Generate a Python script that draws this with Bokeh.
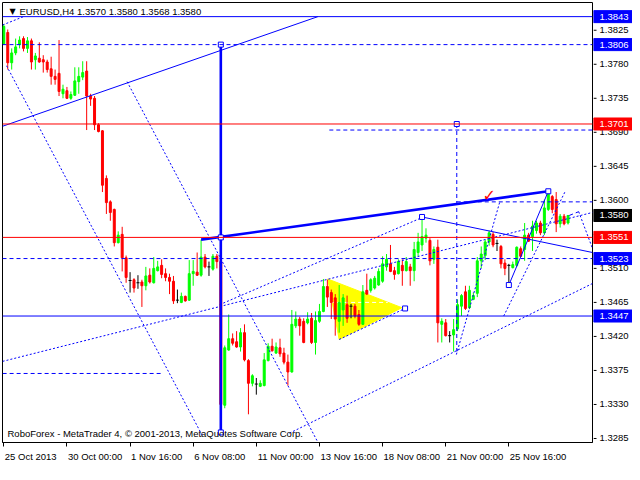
import numpy as np
from bokeh.plotting import figure
from bokeh.layouts import row
from bokeh.models import (Range1d, LinearAxis, FixedTicker, CustomJSTickFormatter, Span, Label,
                          ColumnDataSource)
from bokeh.embed import file_html
from bokeh.resources import INLINE
from bokeh.core.properties import value

# ---------------- data (EURUSD H4, bar index 0 = 25 Oct 2013 08:00) ----------------
time_labels = ["25 Oct 2013", "30 Oct 00:00", "1 Nov 16:00", "6 Nov 08:00", "11 Nov 00:00",
               "13 Nov 16:00", "18 Nov 08:00", "21 Nov 00:00", "25 Nov 16:00"]
time_label_bars = [0, 16, 32, 48, 64, 80, 96, 112, 128]
price_ticks = [1.3285, 1.3330, 1.3375, 1.3420, 1.3465, 1.3510, 1.3555,
               1.3600, 1.3645, 1.3690, 1.3735, 1.3780, 1.3825]

opens = [1.3807, 1.3822, 1.3782, 1.3795, 1.3806, 1.3814, 1.3801, 1.3811, 1.3786, 1.3788,
         1.3786, 1.3783, 1.3774, 1.3764, 1.3768, 1.3741, 1.3745, 1.3735, 1.3739, 1.3757,
         1.3763, 1.3771, 1.3738, 1.3735, 1.3700, 1.3692, 1.3629, 1.3598, 1.3588, 1.3544,
         1.3555, 1.3524, 1.3494, 1.3495, 1.3491, 1.3492, 1.3487, 1.3501, 1.3491, 1.3507,
         1.3514, 1.3503, 1.3498, 1.3493, 1.3468, 1.3465, 1.3473, 1.3468, 1.3503, 1.3505,
         1.3501, 1.3525, 1.3512, 1.3509, 1.3526, 1.3519, 1.3329, 1.3402, 1.3417, 1.3413,
         1.3406, 1.3425, 1.3388, 1.3358, 1.3357, 1.3354, 1.3355, 1.3388, 1.3407, 1.3398,
         1.3405, 1.3398, 1.3386, 1.3373, 1.3434, 1.3443, 1.3440, 1.3438, 1.3444, 1.3412,
         1.3440, 1.3453, 1.3486, 1.3478, 1.3471, 1.3440, 1.3455, 1.3462, 1.3460, 1.3460,
         1.3449, 1.3436, 1.3481, 1.3481, 1.3484, 1.3488, 1.3493, 1.3512, 1.3516, 1.3507,
         1.3503, 1.3514, 1.3507, 1.3512, 1.3507, 1.3531, 1.3541, 1.3550, 1.3547, 1.3522,
         1.3538, 1.3436, 1.3438, 1.3421, 1.3422, 1.3430, 1.3460, 1.3479, 1.3458, 1.3469,
         1.3477, 1.3520, 1.3527, 1.3545, 1.3555, 1.3543, 1.3539, 1.3517, 1.3514, 1.3511,
         1.3514, 1.3536, 1.3535, 1.3554, 1.3552, 1.3560, 1.3570, 1.3557, 1.3588, 1.3605,
         1.3601, 1.3569, 1.3579, 1.3570]
highs = [1.3833, 1.3826, 1.3801, 1.3814, 1.3817, 1.3817, 1.3816, 1.3814, 1.3795, 1.3809,
         1.3792, 1.3786, 1.3790, 1.3773, 1.3812, 1.3753, 1.3750, 1.3744, 1.3776, 1.3776,
         1.3784, 1.3784, 1.3741, 1.3738, 1.3702, 1.3693, 1.3633, 1.3600, 1.3589, 1.3559,
         1.3565, 1.3527, 1.3505, 1.3497, 1.3501, 1.3495, 1.3512, 1.3510, 1.3525, 1.3520,
         1.3522, 1.3510, 1.3503, 1.3500, 1.3482, 1.3478, 1.3474, 1.3521, 1.3521, 1.3531,
         1.3548, 1.3529, 1.3519, 1.3529, 1.3529, 1.3527, 1.3408, 1.3449, 1.3424, 1.3427,
         1.3431, 1.3436, 1.3390, 1.3370, 1.3365, 1.3362, 1.3398, 1.3411, 1.3417, 1.3412,
         1.3417, 1.3405, 1.3396, 1.3455, 1.3453, 1.3446, 1.3444, 1.3452, 1.3451, 1.3453,
         1.3463, 1.3496, 1.3495, 1.3482, 1.3476, 1.3488, 1.3476, 1.3474, 1.3463, 1.3463,
         1.3455, 1.3488, 1.3503, 1.3497, 1.3500, 1.3510, 1.3526, 1.3529, 1.3541, 1.3512,
         1.3522, 1.3522, 1.3525, 1.3516, 1.3545, 1.3557, 1.3577, 1.3563, 1.3550, 1.3539,
         1.3548, 1.3444, 1.3443, 1.3427, 1.3443, 1.3469, 1.3476, 1.3487, 1.3487, 1.3478,
         1.3525, 1.3539, 1.3548, 1.3560, 1.3558, 1.3548, 1.3541, 1.3522, 1.3516, 1.3519,
         1.3539, 1.3539, 1.3570, 1.3557, 1.3573, 1.3573, 1.3573, 1.3601, 1.3612, 1.3607,
         1.3611, 1.3582, 1.3582, 1.3580]
lows = [1.3806, 1.3773, 1.3773, 1.3792, 1.3801, 1.3797, 1.3795, 1.3773, 1.3773, 1.3782,
        1.3769, 1.3769, 1.3753, 1.3753, 1.3738, 1.3735, 1.3734, 1.3733, 1.3738, 1.3741,
        1.3759, 1.3693, 1.3725, 1.3693, 1.3690, 1.3611, 1.3582, 1.3573, 1.3539, 1.3543,
        1.3506, 1.3491, 1.3478, 1.3478, 1.3483, 1.3459, 1.3481, 1.3490, 1.3490, 1.3506,
        1.3497, 1.3493, 1.3476, 1.3463, 1.3464, 1.3464, 1.3466, 1.3467, 1.3487, 1.3500,
        1.3499, 1.3510, 1.3500, 1.3507, 1.3510, 1.3293, 1.3325, 1.3401, 1.3408, 1.3405,
        1.3400, 1.3387, 1.3317, 1.3354, 1.3343, 1.3353, 1.3354, 1.3387, 1.3400, 1.3397,
        1.3393, 1.3383, 1.3355, 1.3372, 1.3431, 1.3421, 1.3411, 1.3436, 1.3410, 1.3396,
        1.3438, 1.3452, 1.3459, 1.3443, 1.3421, 1.3425, 1.3434, 1.3438, 1.3444, 1.3444,
        1.3434, 1.3435, 1.3475, 1.3478, 1.3482, 1.3487, 1.3491, 1.3507, 1.3505, 1.3495,
        1.3502, 1.3487, 1.3506, 1.3487, 1.3493, 1.3526, 1.3533, 1.3544, 1.3514, 1.3516,
        1.3412, 1.3412, 1.3420, 1.3412, 1.3400, 1.3427, 1.3447, 1.3455, 1.3456, 1.3468,
        1.3472, 1.3510, 1.3521, 1.3540, 1.3538, 1.3533, 1.3510, 1.3501, 1.3488, 1.3510,
        1.3512, 1.3525, 1.3520, 1.3545, 1.3533, 1.3556, 1.3554, 1.3554, 1.3586, 1.3583,
        1.3558, 1.3564, 1.3567, 1.3568]
closes = [1.3830, 1.3782, 1.3795, 1.3803, 1.3812, 1.3801, 1.3811, 1.3783, 1.3791, 1.3783,
          1.3783, 1.3773, 1.3764, 1.3760, 1.3744, 1.3747, 1.3735, 1.3740, 1.3758, 1.3764,
          1.3769, 1.3738, 1.3734, 1.3700, 1.3691, 1.3620, 1.3597, 1.3584, 1.3544, 1.3554,
          1.3524, 1.3498, 1.3494, 1.3484, 1.3491, 1.3487, 1.3500, 1.3492, 1.3510, 1.3512,
          1.3502, 1.3498, 1.3493, 1.3467, 1.3468, 1.3473, 1.3467, 1.3503, 1.3506, 1.3501,
          1.3525, 1.3512, 1.3512, 1.3526, 1.3519, 1.3330, 1.3405, 1.3417, 1.3411, 1.3406,
          1.3425, 1.3389, 1.3358, 1.3368, 1.3357, 1.3358, 1.3389, 1.3407, 1.3401, 1.3406,
          1.3397, 1.3386, 1.3373, 1.3436, 1.3443, 1.3434, 1.3412, 1.3443, 1.3412, 1.3441,
          1.3453, 1.3486, 1.3472, 1.3465, 1.3443, 1.3465, 1.3471, 1.3444, 1.3460, 1.3447,
          1.3436, 1.3479, 1.3476, 1.3495, 1.3497, 1.3506, 1.3516, 1.3522, 1.3506, 1.3502,
          1.3519, 1.3507, 1.3519, 1.3507, 1.3535, 1.3545, 1.3552, 1.3554, 1.3520, 1.3535,
          1.3438, 1.3440, 1.3421, 1.3421, 1.3429, 1.3462, 1.3474, 1.3457, 1.3481, 1.3474,
          1.3520, 1.3529, 1.3545, 1.3557, 1.3541, 1.3543, 1.3516, 1.3510, 1.3514, 1.3515,
          1.3538, 1.3526, 1.3554, 1.3546, 1.3566, 1.3570, 1.3557, 1.3590, 1.3611, 1.3588,
          1.3569, 1.3579, 1.3569, 1.3580]

# horizontal price levels drawn on the chart
blue_solid_levels = [1.3843, 1.3447]
blue_dash_levels = [1.3806, 1.3523]
red_levels = [1.3701, 1.3551]
# price tags on the price scale
tag_prices = [1.3843, 1.3806, 1.3701, 1.3580, 1.3551, 1.3523, 1.3447]
tag_kinds = ["blue", "blue", "red", "black", "red", "blue", "blue"]

# analysis objects, anchors in (bar index, price)
dash_seg_x = [[-0.3, 40.4], [82.5, 150.0], [114.8, 150.0], [114.8, 114.8], [143.3, 145.7]]
dash_seg_y = [[1.3371, 1.3371], [1.3693, 1.3693], [1.3598, 1.3598], [1.3701, 1.3400], [1.3580, 1.3585]]
dot_x = [[-0.3, 5.0], [0.7, 50.4], [31.25, 79.6], [-0.3, 149.2], [72.4, 149.2], [54.7, 105.9],
         [114.7, 125.7], [126.7, 142.2], [85.0, 101.7], [145.7, 149.3]]
dot_y = [[1.3832, 1.3843], [1.3778, 1.3288], [1.3757, 1.3280], [1.3387, 1.3584], [1.3292, 1.3490],
         [1.3462, 1.3577], [1.3396, 1.3598], [1.3447, 1.3611], [1.3416, 1.3457], [1.3585, 1.3535]]
thin_x = [[-0.3, 79.6], [106.0, 149.2], [128.0, 138.0]]
thin_y = [[1.3698, 1.3843], [1.3578, 1.3531], [1.3488, 1.3612]]
thick_x = [[55.0, 55.0], [50.0, 138.0]]
thick_y = [[1.3806, 1.3293], [1.3548, 1.3612]]
anchor_x = [55.0, 55.0, 55.0, 138.0, 128.0, 106.0, 114.8, 101.7]
anchor_y = [1.3806, 1.3293, 1.3551, 1.3612, 1.3488, 1.3578, 1.3701, 1.3457]
triangle_x = [82.1, 100.9, 85.0]
triangle_y = [1.3496, 1.3458, 1.3416]
tri_mid_x = [82.7, 97.3]
tri_mid_y = [1.3465, 1.3465]
check_x = [123.0]
check_y = [1.3606]

title_text = "EURUSD,H4 1.3570 1.3580 1.3568 1.3580"
footer_text = "RoboForex - MetaTrader 4, \u00a9 2001-2013, MetaQuotes Software Corp."

# ---------------- layout constants ----------------
SCALE_W = 39                      # width of the price-scale strip
H = 464
BL, BR, BT, BB = 2, 1, 2, 18
FRAME_W = 590
X0, X1 = -0.33, 149.2
Y0, Y1 = 1.32797, 1.38617
FONT = "Liberation Sans"
FS = "9.5px"
BLUE = "#0000FF"
RED = "#FF0000"

yr = Range1d(Y0, Y1)
p = figure(width=BL + FRAME_W + BR, height=H, output_backend="svg", toolbar_location=None,
           x_range=Range1d(X0, X1), y_range=yr,
           x_axis_location=None, y_axis_location=None,
           min_border_left=BL, min_border_right=BR, min_border_top=BT, min_border_bottom=BB)
p.outline_line_color = "black"
p.outline_line_width = 1
p.background_fill_color = "white"
p.border_fill_color = "white"
for g in p.grid:
    g.visible = False

# bottom time axis: labels start at the tick (MetaTrader style)
px_per_bar = FRAME_W / (X1 - X0)
CW = {ch: 5.28 for ch in "0123456789"}
CW.update({" ": 2.64, ":": 2.64, "O": 7.39, "c": 4.75, "t": 2.64, "N": 6.86, "o": 5.28, "v": 4.75})


def est_w(s):
    return sum(CW.get(ch, 5.3) for ch in s)


label_pos = [b + (est_w(s) / 2 + 1.0) / px_per_bar for b, s in zip(time_label_bars, time_labels)]
xax = LinearAxis(ticker=FixedTicker(ticks=label_pos, minor_ticks=time_label_bars),
                 formatter=CustomJSTickFormatter(args=dict(pos=label_pos, labels=time_labels), code="""
let best = 0, bd = 1e9;
for (let k = 0; k < pos.length; k++) { const d = Math.abs(pos[k] - tick); if (d < bd) { bd = d; best = k; } }
return labels[best];
"""))
xax.major_tick_line_color = None
xax.major_tick_in = 0
xax.major_tick_out = 0
xax.minor_tick_in = 0
xax.minor_tick_out = 4
xax.minor_tick_line_color = "black"
xax.major_label_standoff = 4
xax.major_label_text_font = FONT
xax.major_label_text_font_size = FS
xax.major_label_text_color = "black"
xax.axis_line_color = "black"
p.add_layout(xax, "below")

# yellow triangle (behind the bars)
p.patch(triangle_x, triangle_y, fill_color="#FFFF00", line_color="#FFFF00", line_width=1)
p.line(tri_mid_x, tri_mid_y, line_color="white", line_dash="4 3", line_width=1)

# candles
o = np.array(opens); c = np.array(closes); h = np.array(highs); l = np.array(lows)
x = np.arange(len(o), dtype=float)
col = np.where(c > o, "#00FF00", np.where(c < o, RED, "#000000"))
src = ColumnDataSource(dict(x=x, h=h, l=l, col=col))
p.segment(x0="x", y0="l", x1="x", y1="h", line_color="col", line_width=1, source=src)
body = c != o
bsrc = ColumnDataSource(dict(x=x[body], top=np.maximum(o, c)[body], bot=np.minimum(o, c)[body], col=col[body]))
p.vbar(x="x", width=0.5, top="top", bottom="bot", fill_color="col", line_color="col", line_width=1, source=bsrc)
dsrc = ColumnDataSource(dict(x0=x[~body] - 0.38, x1=x[~body] + 0.38, y=o[~body]))
p.segment(x0="x0", y0="y", x1="x1", y1="y", line_color="black", line_width=1, source=dsrc)

# horizontal levels
for lv in blue_solid_levels:
    p.add_layout(Span(location=lv, dimension="width", line_color=BLUE, line_width=1))
for lv in blue_dash_levels:
    p.add_layout(Span(location=lv, dimension="width", line_color=BLUE, line_width=1, line_dash="4 3"))
for lv in red_levels:
    p.add_layout(Span(location=lv, dimension="width", line_color=RED, line_width=1))

# analysis lines
p.multi_line(dash_seg_x, dash_seg_y, line_color=BLUE, line_width=1, line_dash="4 3")
p.multi_line(dot_x, dot_y, line_color=BLUE, line_width=1, line_dash="2 2")
p.multi_line(thin_x, thin_y, line_color=BLUE, line_width=1)
p.multi_line(thick_x, thick_y, line_color=BLUE, line_width=2.6)
p.scatter(anchor_x, anchor_y, marker="square", size=5, fill_color="white", line_color=BLUE, line_width=1)
p.text(check_x, check_y, text=["\u2713"], text_color=RED, text_font=value("DejaVu Sans"),
       text_font_size="16px", text_font_style="bold", text_align="center", text_baseline="middle")

# header and footer texts
p.add_layout(Label(x=X0, y=Y1, x_offset=7, y_offset=-9, text="\u25bc", text_align="left",
                   text_baseline="middle", text_color="black", text_font="DejaVu Sans", text_font_size="8px"))
p.add_layout(Label(x=X0, y=Y1, x_offset=17, y_offset=-9, text=title_text, text_align="left",
                   text_baseline="middle", text_color="black", text_font=FONT, text_font_size=FS))
p.add_layout(Label(x=X0, y=Y0, x_offset=5, y_offset=9, text=footer_text, text_align="left",
                   text_baseline="middle", text_color="black", text_font=FONT, text_font_size=FS))

# ---------------- price scale strip (shares the price range) ----------------
s = figure(width=SCALE_W, height=H, output_backend="svg", toolbar_location=None,
           x_range=Range1d(0, SCALE_W), y_range=yr,
           x_axis_location=None, y_axis_location=None,
           min_border_left=0, min_border_right=0, min_border_top=BT, min_border_bottom=BB)
s.outline_line_color = None
s.background_fill_color = "white"
s.border_fill_color = "white"
for g in s.grid:
    g.visible = False

tick_src = ColumnDataSource(dict(y=price_ticks, t=["%.4f" % v for v in price_ticks]))
s.segment(x0=0, y0="y", x1=3, y1="y", line_color="black", line_width=1, source=tick_src)
s.text(x=6, y="y", text="t", text_font=value(FONT), text_font_size=FS, text_color="black",
       text_align="left", text_baseline="middle", source=tick_src)

tag_colors = {"blue": BLUE, "red": RED, "black": "#000000"}
tag_src = ColumnDataSource(dict(y=tag_prices, t=["%.4f" % v for v in tag_prices],
                                col=[tag_colors[k] for k in tag_kinds]))
s.rect(x=SCALE_W / 2, y="y", width=SCALE_W, height=12, height_units="screen",
       fill_color="col", line_color="col", source=tag_src)
s.text(x=6, y="y", text="t", text_font=value(FONT), text_font_size=FS, text_color="white",
       text_align="left", text_baseline="middle", source=tag_src)

layout = row(p, s, spacing=0)
open("out.html", "w").write(file_html(layout, INLINE))
